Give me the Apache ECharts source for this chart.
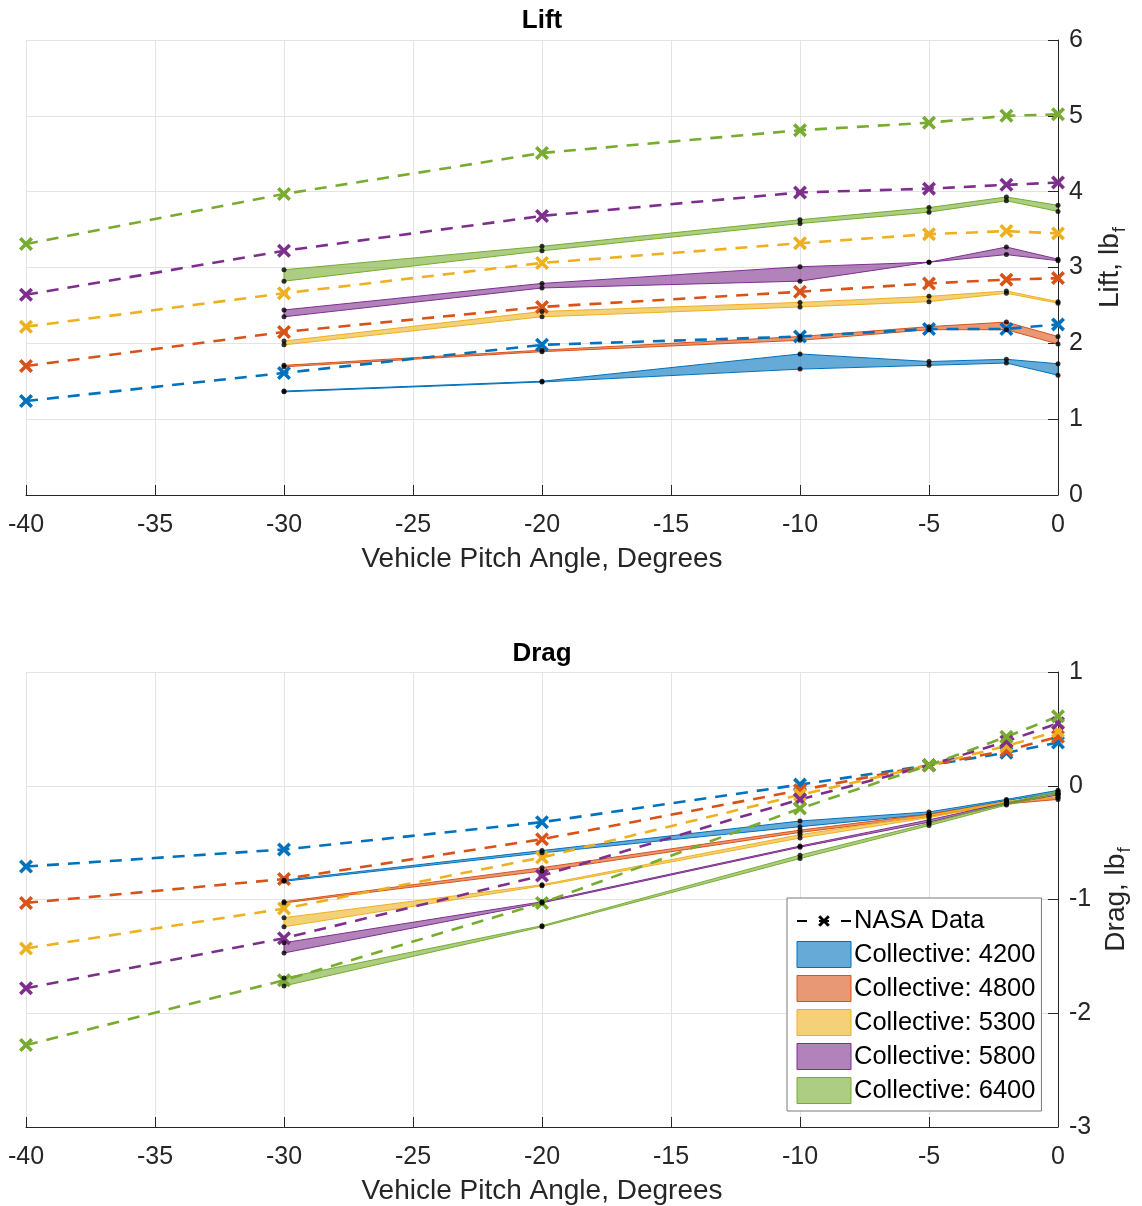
<!DOCTYPE html>
<html>
<head>
<meta charset="utf-8">
<script src="https://cdn.jsdelivr.net/npm/echarts@6/dist/echarts.min.js"></script>
<style>
html,body{margin:0;padding:0;background:#fff;}
#chart{width:1142px;height:1206px;}
</style>
</head>
<body>
<div id="chart"></div>
<script>
// ---------- data ----------
const xNasa = [-40, -30, -20, -10, -5, -2, 0];
const xBand = [-30, -20, -10, -5, -2, 0];
const collectives = ['4200', '4800', '5300', '5800', '6400'];
const colors = ['#0072BD', '#D95319', '#EDB120', '#7E2F8E', '#77AC30'];
const fills = ['rgba(0,114,189,0.6)', 'rgba(217,83,25,0.6)', 'rgba(237,177,32,0.6)', 'rgba(126,47,142,0.6)', 'rgba(119,172,48,0.6)'];

// Lift, NASA data (per collective)
const liftNasa4200 = [1.24, 1.61, 1.98, 2.09, 2.19, 2.19, 2.25];
const liftNasa4800 = [1.70, 2.15, 2.48, 2.68, 2.79, 2.84, 2.86];
const liftNasa5300 = [2.22, 2.66, 3.06, 3.32, 3.44, 3.48, 3.45];
const liftNasa5800 = [2.64, 3.22, 3.68, 3.99, 4.04, 4.09, 4.12];
const liftNasa6400 = [3.31, 3.97, 4.51, 4.81, 4.91, 5.00, 5.02];
// Lift, simulated bands (upper / lower)
const liftUp4200 = [1.37, 1.50, 1.86, 1.76, 1.79, 1.73];
const liftLo4200 = [1.36, 1.49, 1.66, 1.71, 1.74, 1.58];
const liftUp4800 = [1.71, 1.91, 2.09, 2.22, 2.28, 2.09];
const liftLo4800 = [1.69, 1.89, 2.04, 2.18, 2.18, 1.99];
const liftUp5300 = [2.03, 2.42, 2.54, 2.62, 2.69, 2.55];
const liftLo5300 = [1.98, 2.35, 2.48, 2.55, 2.66, 2.53];
const liftUp5800 = [2.44, 2.79, 3.01, 3.07, 3.27, 3.11];
const liftLo5800 = [2.35, 2.73, 2.82, 3.07, 3.17, 3.09];
const liftUp6400 = [2.97, 3.28, 3.63, 3.79, 3.93, 3.82];
const liftLo6400 = [2.82, 3.22, 3.58, 3.73, 3.88, 3.74];

// Drag, NASA data
const dragNasa4200 = [-0.71, -0.56, -0.32, 0.01, 0.18, 0.29, 0.38];
const dragNasa4800 = [-1.03, -0.82, -0.47, -0.04, 0.18, 0.31, 0.43];
const dragNasa5300 = [-1.43, -1.08, -0.63, -0.08, 0.18, 0.35, 0.48];
const dragNasa5800 = [-1.78, -1.34, -0.79, -0.12, 0.18, 0.39, 0.55];
const dragNasa6400 = [-2.28, -1.71, -1.03, -0.20, 0.18, 0.43, 0.61];
// Drag, simulated bands
const dragUp4200 = [-0.83, -0.57, -0.31, -0.23, -0.12, -0.04];
const dragLo4200 = [-0.84, -0.59, -0.36, -0.25, -0.13, -0.06];
const dragUp4800 = [-1.02, -0.72, -0.39, -0.25, -0.14, -0.10];
const dragLo4800 = [-1.03, -0.75, -0.41, -0.27, -0.16, -0.12];
const dragUp5300 = [-1.16, -0.87, -0.43, -0.26, -0.14, -0.08];
const dragLo5300 = [-1.24, -0.88, -0.46, -0.28, -0.15, -0.10];
const dragUp5800 = [-1.38, -1.02, -0.53, -0.30, -0.15, -0.07];
const dragLo5800 = [-1.47, -1.03, -0.54, -0.32, -0.16, -0.08];
const dragUp6400 = [-1.69, -1.23, -0.61, -0.33, -0.15, -0.05];
const dragLo6400 = [-1.76, -1.24, -0.64, -0.35, -0.17, -0.07];

const xTicksMin = -40, xTicksMax = 0, xTickStep = 5;
const liftMin = 0, liftMax = 6, dragMin = -3, dragMax = 1;

const liftNasa = [liftNasa4200, liftNasa4800, liftNasa5300, liftNasa5800, liftNasa6400];
const liftUp = [liftUp4200, liftUp4800, liftUp5300, liftUp5800, liftUp6400];
const liftLo = [liftLo4200, liftLo4800, liftLo5300, liftLo5800, liftLo6400];
const dragNasa = [dragNasa4200, dragNasa4800, dragNasa5300, dragNasa5800, dragNasa6400];
const dragUp = [dragUp4200, dragUp4800, dragUp5300, dragUp5800, dragUp6400];
const dragLo = [dragLo4200, dragLo4800, dragLo5300, dragLo5800, dragLo6400];

// ---------- helpers ----------
const TXT = '#262626';
const FONT = '"Liberation Sans", Arial, Helvetica, sans-serif';
const XSYM = 'path://M0,1.8L1.8,0L5,3.2L8.2,0L10,1.8L6.8,5L10,8.2L8.2,10L5,6.8L1.8,10L0,8.2L3.2,5Z';
// same cross, padded with two tiny corner specks so the legend draws it smaller
const XSYM_LEG = 'path://M-4,-4L-3.9,-4L-4,-3.9ZM14,14L13.9,14L14,13.9ZM0,1.8L1.8,0L5,3.2L8.2,0L10,1.8L6.8,5L10,8.2L8.2,10L5,6.8L1.8,10L0,8.2L3.2,5Z';

function bandSeries(i, up, lo, gi) {
  return {
    type: 'custom', name: 'Collective: ' + collectives[i],
    xAxisIndex: gi, yAxisIndex: gi, z: 2, silent: true, clip: true,
    itemStyle: { color: fills[i] },
    data: [[xBand[0], up[0]]],
    renderItem: function (params, api) {
      const pts = [];
      for (let k = 0; k < xBand.length; k++) pts.push(api.coord([xBand[k], up[k]]));
      for (let k = xBand.length - 1; k >= 0; k--) pts.push(api.coord([xBand[k], lo[k]]));
      return { type: 'polygon', shape: { points: pts },
        style: { fill: fills[i], stroke: colors[i], lineWidth: 1 } };
    }
  };
}
function nasaSeries(i, vals, gi) {
  return {
    type: 'line', name: 'NASA ' + collectives[i] + (gi ? ' d' : ' l'),
    xAxisIndex: gi, yAxisIndex: gi, z: 4, silent: true,
    data: xNasa.map((x, k) => [x, vals[k]]),
    symbol: XSYM, symbolSize: 14, showSymbol: true,
    itemStyle: { color: colors[i] },
    lineStyle: { color: colors[i], width: 2.6, type: [12, 9] }
  };
}
function dotSeries(up, lo, gi) {
  const d = [];
  up.forEach(arr => arr.forEach((v, k) => d.push([xBand[k], v])));
  lo.forEach(arr => arr.forEach((v, k) => d.push([xBand[k], v])));
  return { type: 'scatter', xAxisIndex: gi, yAxisIndex: gi, z: 6, silent: true,
    symbol: 'circle', symbolSize: 5, itemStyle: { color: '#000' }, data: d };
}
function xAxisDef(gi) {
  return {
    type: 'value', gridIndex: gi, min: xTicksMin, max: xTicksMax, interval: xTickStep,
    name: 'Vehicle Pitch Angle, Degrees', nameLocation: 'middle', nameGap: 50,
    nameTextStyle: { fontSize: 28, color: TXT, fontFamily: FONT },
    axisLine: { show: true, onZero: false, lineStyle: { color: TXT, width: 1 } },
    axisTick: { show: true, inside: true, length: 10, lineStyle: { color: TXT } },
    axisLabel: { fontSize: 25, color: TXT, fontFamily: FONT, margin: 18 },
    splitLine: { show: true, lineStyle: { color: '#e3e3e3', width: 1 } }
  };
}
function yAxisDef(gi, min, max, label) {
  return {
    type: 'value', gridIndex: gi, position: 'right', min: min, max: max, interval: 1,
    name: '{a|' + label + ', lb}{b|f}', nameLocation: 'middle', nameGap: 34, nameRotate: 90,
    nameTextStyle: { fontFamily: FONT, color: TXT,
      rich: { a: { fontSize: 28, color: TXT, fontFamily: FONT },
              b: { fontSize: 19, color: TXT, fontFamily: FONT, padding: [18, 0, 0, 1] } } },
    axisLine: { show: true, onZero: false, lineStyle: { color: TXT, width: 1 } },
    axisTick: { show: true, inside: true, length: 10, lineStyle: { color: TXT } },
    axisLabel: { fontSize: 25, color: TXT, fontFamily: FONT, margin: 11 },
    splitLine: { show: true, lineStyle: { color: '#e3e3e3', width: 1 } }
  };
}

const series = [];
for (let i = 0; i < 5; i++) series.push(bandSeries(i, liftUp[i], liftLo[i], 0));
for (let i = 0; i < 5; i++) series.push(nasaSeries(i, liftNasa[i], 0));
series.push(dotSeries(liftUp, liftLo, 0));
for (let i = 0; i < 5; i++) series.push(bandSeries(i, dragUp[i], dragLo[i], 1));
for (let i = 0; i < 5; i++) series.push(nasaSeries(i, dragNasa[i], 1));
series.push(dotSeries(dragUp, dragLo, 1));
series.push({ type: 'line', name: 'NASA Data', xAxisIndex: 1, yAxisIndex: 1, data: [],
  symbol: XSYM_LEG, symbolSize: 13, itemStyle: { color: '#000' },
  lineStyle: { color: '#000', width: 3, type: [10, 12] } });

const legendData = [{ name: 'NASA Data' }].concat(collectives.map((c, i) => ({
  name: 'Collective: ' + c, icon: 'rect',
  itemStyle: { color: fills[i], borderColor: colors[i], borderWidth: 1 }
})));

const chart = echarts.init(document.getElementById('chart'), null, { renderer: 'canvas' });
chart.setOption({
  animation: false,
  backgroundColor: '#fff',
  textStyle: { fontFamily: FONT },
  title: [
    { text: 'Lift', left: 537, top: 3, textAlign: 'center',
      textStyle: { fontSize: 26, fontWeight: 'bold', color: '#000', fontFamily: FONT } },
    { text: 'Drag', left: 537, top: 636, textAlign: 'center',
      textStyle: { fontSize: 26, fontWeight: 'bold', color: '#000', fontFamily: FONT } }
  ],
  grid: [
    { left: 26, right: 84, top: 40, height: 455, outerBoundsMode: 'none', containLabel: false },
    { left: 26, right: 84, top: 672, height: 455, outerBoundsMode: 'none', containLabel: false }
  ],
  xAxis: [xAxisDef(0), xAxisDef(1)],
  yAxis: [yAxisDef(0, liftMin, liftMax, 'Lift'), yAxisDef(1, dragMin, dragMax, 'Drag')],
  legend: {
    data: legendData, orient: 'vertical', left: 787, top: 898,
    backgroundColor: '#fff', borderColor: '#7a7a7a', borderWidth: 1,
    padding: [10, 6, 7, 9], itemWidth: 54, itemHeight: 26, itemGap: 7,
    selectedMode: false,
    textStyle: { fontSize: 25.5, lineHeight: 26, color: '#000', fontFamily: FONT, padding: [0, 0, 0, -2] }
  },
  series: series
});
</script>
</body>
</html>
